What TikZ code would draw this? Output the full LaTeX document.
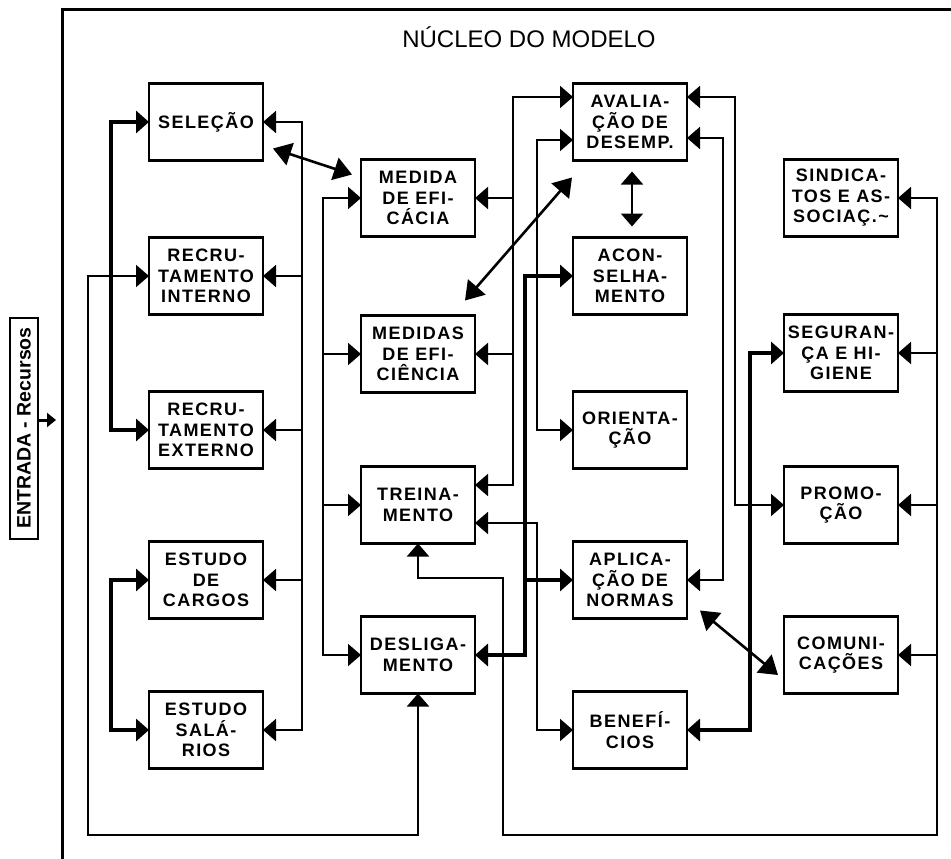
\documentclass[tikz,border=0pt]{standalone}
\usepackage{fontspec}
\setmainfont{Liberation Sans}
\newfontfamily\boxfont[LetterSpace=8]{Liberation Sans}
\usepackage{tkz-graph}
\usetikzlibrary{arrows.meta}

\begin{document}
\begin{tikzpicture}[x=1pt, y=-1pt, >={Triangle[length=13pt,width=22pt]},
	wire/.style={line width=2pt},
	boldwire/.style={line width=3.2pt},
	heavywire/.style={line width=4.4pt},
	diagwire/.style={line width=2.6pt, {Triangle[length=18pt,width=23pt]}-{Triangle[length=18pt,width=23pt]}}]
		\tikzset{VertexStyle/.style={draw, rectangle, line width=2.6pt, minimum width=114pt,
			minimum height=77pt, inner sep=1pt, align=center,
			font=\boxfont\fontsize{18}{20.5}\selectfont\bfseries}}
		\useasboundingbox (0,0) rectangle (951,859);
		\draw[line width=3pt] (62,859) -- (62,10) -- (951,10);
		\node[anchor=base, font=\fontsize{24}{28}\selectfont] (titulo) at (529,48) {NÚCLEO DO MODELO};
		\node[draw, line width=2pt, rotate=90, minimum width=221pt, minimum height=28pt, inner sep=1pt,
			font=\fontsize{19.5}{22}\selectfont\bfseries] (entrada) at (24,428) {ENTRADA - Recursos};
		\Vertex[x=206,y=122,L={SELEÇÃO}]{sel}
		\Vertex[x=206,y=276,L={RECRU-\\TAMENTO\\INTERNO}]{recint}
		\Vertex[x=206,y=430,L={RECRU-\\TAMENTO\\EXTERNO}]{recext}
		\Vertex[x=206,y=580,L={ESTUDO\\DE\\CARGOS}]{cargos}
		\Vertex[x=206,y=730,L={ESTUDO\\SALÁ-\\RIOS}]{salarios}
		\Vertex[x=418,y=198,L={MEDIDA\\DE EFI-\\CÁCIA}]{eficacia}
		\Vertex[x=418,y=354,L={MEDIDAS\\DE EFI-\\CIÊNCIA}]{eficiencia}
		\Vertex[x=418,y=505,L={TREINA-\\MENTO}]{treino}
		\Vertex[x=418,y=655,L={DESLIGA-\\MENTO}]{deslig}
		\Vertex[x=630,y=122,L={AVALIA-\\ÇÃO DE\\DESEMP.}]{aval}
		\Vertex[x=630,y=276,L={ACON-\\SELHA-\\MENTO}]{acons}
		\Vertex[x=630,y=430,L={ORIENTA-\\ÇÃO}]{orient}
		\Vertex[x=630,y=580,L={APLICA-\\ÇÃO DE\\NORMAS}]{normas}
		\Vertex[x=630,y=730,L={BENEFÍ-\\CIOS}]{benef}
		\Vertex[x=841,y=198,L={SINDICA-\\TOS E AS-\\SOCIAÇ.\~{}}]{sind}
		\Vertex[x=841,y=353,L={SEGURAN-\\ÇA E HI-\\GIENE}]{seg}
		\Vertex[x=841,y=505,L={PROMO-\\ÇÃO}]{promo}
		\Vertex[x=841,y=655,L={COMUNI-\\CAÇÕES}]{comun}
	%	entrada
		\draw[line width=3pt, -{Triangle[length=9pt,width=14pt]}] ([yshift=8pt]entrada.south) -- ++(17,0);
	%	coluna 1
		\draw[boldwire,<->] (sel.west) -- ++(-38,0) |- (recext.west);
		\draw[boldwire,<->] (cargos.west) -- ++(-38,0) |- (salarios.west);
		\draw[wire,<->] (recint.west) -| (88,835) -| (deslig.south);
		\draw[wire,<->] (sel.east) -- ++(39,0) |- (salarios.east);
		\foreach \v in {recint,recext,cargos}
			\draw[wire,<-] (\v.east) -- ++(39,0);
		\draw[diagwire] ([xshift=10pt,yshift=12pt]sel.south east) -- ([xshift=-9pt,yshift=-15pt]eficacia.north west);
	%	coluna 2
		\draw[wire,<->] (eficacia.west) -- ++(-38,0) |- (deslig.west);
		\foreach \v in {eficiencia,treino}
			\draw[wire,<-] (\v.west) -- ++(-38,0);
		\draw[wire,<->] ([yshift=25pt]aval.west) -- ++(-60,0) |- ([yshift=20pt]treino.east);
		\foreach \v in {eficacia,eficiencia}
			\draw[wire,<-] (\v.east) -- ++(38,0);
		\draw[diagwire] ([xshift=-10pt,yshift=15pt]eficiencia.north east) -- ([xshift=-1pt,yshift=-17pt]aval.south west);
		\draw[wire,<->] ([yshift=-18pt]aval.west) -- ++(-36,0) |- (orient.west);
		\draw[heavywire,<->] (acons.west) -- ++(-48,0) |- (deslig.east);
		\draw[heavywire,<-] (normas.west) -- ++(-48,0);
		\draw[wire,<->] ([yshift=-18pt]treino.east) -- ++(62,0) |- (benef.west);
		\draw[wire,<->] (treino.south) |- (503,578) -- (503,835) -| (937,198) -- (sind.east);
	%	coluna 3
		\draw[wire,<->,shorten <=11pt,shorten >=11pt] ([xshift=2pt]aval.south) -- ([xshift=2pt]acons.north);
		\draw[wire,<->] ([yshift=25pt]aval.east) -- ++(48,0) |- (promo.west);
		\draw[wire,<->] ([yshift=-16pt]aval.east) -- ++(36,0) |- (normas.east);
		\draw[heavywire,<->] (seg.west) -- ++(-34,0) |- (benef.east);
		\draw[diagwire] ([xshift=13pt,yshift=8pt]normas.south east) -- ([xshift=-6pt,yshift=-20pt]comun.west);
	%	coluna 4
		\foreach \v in {seg,promo,comun}
			\draw[wire,<-] (\v.east) -- ++(39,0);
	\end{tikzpicture}
\end{document}
